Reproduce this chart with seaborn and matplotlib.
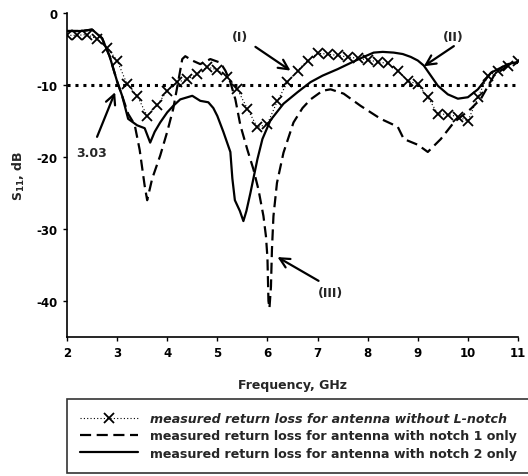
import numpy as np
import pandas as pd
import matplotlib.pyplot as plt
import seaborn as sns

# izmjereni S11 (dB) ocitan s grafa
freq_plain = [2.0, 2.2, 2.4, 2.6, 2.8, 3.0, 3.2, 3.4, 3.6, 3.8, 4.0, 4.2, 4.4, 4.6, 4.8,
              5.0, 5.2, 5.4, 5.6, 5.8, 6.0, 6.2, 6.4, 6.6, 6.8, 7.0, 7.2, 7.4, 7.6, 7.8,
              8.0, 8.2, 8.4, 8.6, 8.8, 9.0, 9.2, 9.4, 9.6, 9.8, 10.0, 10.2, 10.4, 10.6,
              10.8, 11.0]
s11_plain = [-3.1, -3.1, -3.0, -3.6, -4.8, -6.6, -9.9, -11.5, -14.3, -12.8, -10.8, -9.6,
             -9.2, -8.5, -7.5, -7.9, -8.9, -10.6, -13.3, -15.9, -15.4, -12.2, -9.6, -8.0,
             -6.6, -5.6, -5.7, -5.9, -6.1, -6.3, -6.5, -6.8, -7.0, -8.0, -9.4, -9.9,
             -11.7, -14.0, -14.1, -14.4, -15.0, -11.7, -8.7, -8.1, -7.3, -6.7]

freq_n1 = [2.0, 2.3, 2.5, 2.7, 2.85, 3.0, 3.1, 3.22, 3.35, 3.45, 3.55, 3.6, 3.7, 3.86,
           4.0, 4.12, 4.22, 4.3, 4.36, 4.5, 4.66, 4.86, 5.06, 5.16, 5.26, 5.36, 5.46,
           5.6, 5.72, 5.82, 5.92, 5.97, 6.0, 6.02, 6.04, 6.07, 6.09, 6.12, 6.19, 6.32,
           6.52, 6.7, 6.86, 7.1, 7.26, 7.52, 7.86, 8.26, 8.6, 8.72, 9.0, 9.2, 9.46,
           9.72, 10.06, 10.26, 10.52, 10.8, 11.0]
s11_n1 = [-2.5, -2.5, -2.3, -3.5, -6.0, -9.5, -11.5, -14.0, -15.5, -19.0, -24.0, -26.0,
          -23.0, -19.8, -16.5, -13.3, -9.5, -6.4, -6.0, -6.6, -7.1, -6.4, -6.9, -8.0,
          -9.6, -12.0, -15.6, -19.0, -21.7, -24.5, -28.2, -31.0, -34.0, -40.0, -41.0,
          -38.0, -32.8, -28.2, -23.6, -19.4, -15.2, -13.2, -12.0, -10.8, -10.6, -11.2,
          -12.9, -14.7, -15.8, -17.5, -18.3, -19.3, -17.5, -15.2, -13.3, -11.9, -8.7,
          -7.3, -6.9]

freq_n2 = [2.0, 2.3, 2.5, 2.7, 2.85, 3.0, 3.1, 3.22, 3.4, 3.55, 3.66, 3.75, 3.86, 4.0,
           4.12, 4.26, 4.5, 4.66, 4.82, 4.92, 5.0, 5.12, 5.26, 5.3, 5.35, 5.45, 5.52,
           5.58, 5.66, 5.8, 5.9, 6.06, 6.32, 6.6, 6.86, 7.1, 7.4, 7.7, 7.92, 8.12, 8.3,
           8.52, 8.7, 8.86, 9.0, 9.12, 9.25, 9.4, 9.6, 9.8, 10.0, 10.2, 10.46, 10.8, 11.0]
s11_n2 = [-2.5, -2.5, -2.3, -3.5, -6.0, -9.5, -11.5, -14.7, -15.6, -16.0, -18.0, -16.5,
          -15.2, -13.8, -12.9, -12.0, -11.5, -12.2, -12.4, -13.2, -14.3, -16.5, -19.3,
          -23.0, -26.0, -27.5, -28.9, -27.5, -25.0, -20.3, -17.5, -14.9, -12.6, -11.0,
          -9.6, -8.7, -7.8, -6.8, -6.1, -5.5, -5.4, -5.5, -5.7, -6.1, -6.6, -7.3, -8.6,
          -10.1, -11.3, -11.9, -11.7, -10.6, -8.3, -7.1, -6.8]

labels = ['measured return loss for antenna without L-notch',
          'measured return loss for antenna with notch 1 only',
          'measured return loss for antenna with notch 2 only']

sns.set_style('ticks')
plt.rcParams['font.family'] = ['DejaVu Sans']
plt.rcParams['font.weight'] = 'bold'
plt.rcParams['axes.unicode_minus'] = False

fig = plt.figure(figsize=(5.28, 4.77), dpi=100)
ax = fig.add_axes([67/528, 1-338/477, 451/528, 324/477])

sns.lineplot(x=freq_plain, y=s11_plain, ax=ax, color='black', lw=0.8,
             linestyle=(0, (1, 2)), marker='x', markersize=7, markeredgewidth=1.3,
             markeredgecolor='black', label=labels[0])
sns.lineplot(x=freq_n1, y=s11_n1, ax=ax, color='black', lw=1.6,
             linestyle=(0, (5, 2.5)), label=labels[1])
sns.lineplot(x=freq_n2, y=s11_n2, ax=ax, color='black', lw=1.6, label=labels[2])

# granica -10 dB
ax.axhline(-10, color='black', lw=2.2, linestyle=(0, (1, 1.6)))

ax.set_xlim(2, 11)
ax.set_ylim(-45, 0)
ax.set_xticks([2, 3, 4, 5, 6, 7, 8, 9, 10, 11])
ax.set_yticks([0, -10, -20, -30, -40])
ax.tick_params(labelsize=8.5, length=3, width=1, colors='black')
sns.despine(ax=ax)
for s in ['left', 'bottom']:
    ax.spines[s].set_linewidth(1.2)
    ax.spines[s].set_color('black')
ax.set_xlabel('Frequency, GHz', fontsize=9, fontweight='bold', labelpad=14)
ax.set_ylabel('S$_{\\mathbf{11}}$, dB', fontsize=9, fontweight='bold', labelpad=7)

# strelice i oznake
arrow = dict(arrowstyle='->,head_length=0.7,head_width=0.35', color='black', lw=1.6,
             shrinkA=0, shrinkB=0)
ax.text(2.5, -19.4, '3.03', fontsize=9, ha='center', va='center')
ax.annotate('', xy=(2.96, -11.0), xytext=(2.6, -17.2), arrowprops=arrow)
ax.text(5.45, -3.3, '(I)', fontsize=9, ha='center', va='center')
ax.annotate('', xy=(6.46, -8.0), xytext=(5.76, -4.7), arrowprops=arrow)
ax.text(9.7, -3.3, '(II)', fontsize=9, ha='center', va='center')
ax.annotate('', xy=(9.12, -7.4), xytext=(9.72, -4.6), arrowprops=arrow)
ax.text(7.25, -38.8, '(III)', fontsize=9, ha='center', va='center')
ax.annotate('', xy=(6.2, -33.9), xytext=(7.02, -37.2), arrowprops=arrow)

handles, labs = ax.get_legend_handles_labels()
ax.get_legend().remove()
leg = fig.legend(handles, labs, loc='upper left',
                 bbox_to_anchor=(67/528, 1-400/477, 462/528, 0.0), mode='expand',
                 frameon=True, fancybox=False, edgecolor='black', fontsize=9.1,
                 handlelength=4.6, handletextpad=0.9, labelspacing=0.33,
                 borderpad=1.05, borderaxespad=0)
leg.get_frame().set_linewidth(1.2)
leg.get_texts()[0].set_style('italic')

fig.savefig('out.png', dpi=100)
